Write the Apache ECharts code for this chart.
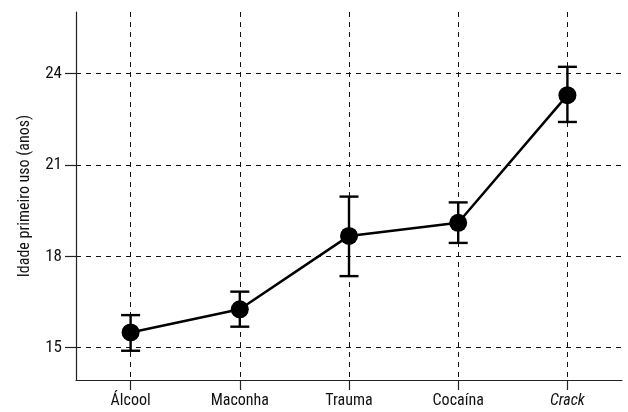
<!DOCTYPE html>
<html>
<head>
<meta charset="utf-8">
<script src="https://cdn.jsdelivr.net/npm/echarts@6/dist/echarts.min.js"></script>
<style>html,body{margin:0;padding:0;background:#fff}#c{width:628px;height:412px}</style>
</head>
<body>
<div id="c"></div>
<script>
const categories = ['Álcool', 'Maconha', 'Trauma', 'Cocaína', 'Crack'];
const means = [15.50, 16.26, 18.67, 19.10, 23.29];
const lower = [14.90, 15.69, 17.35, 18.44, 22.41];
const upper = [16.07, 16.84, 19.96, 19.77, 24.22];
const yTicks = [15, 18, 21, 24];
const xTicks = [0, 1, 2, 3, 4];

const FONT = '"Roboto Condensed", "Liberation Sans", sans-serif';
const chart = echarts.init(document.getElementById('c'), null, {renderer: 'canvas'});

const lineData = means.map((v, i) => [i, v]);
const errData = means.map((v, i) => [i, lower[i], upper[i]]);

chart.setOption({
  animation: false,
  grid: {left: 76, right: 6, top: 12, bottom: 32, containLabel: false},
  xAxis: {
    type: 'value', min: -0.5, max: 4.5,
    axisLine: {show: true, onZero: false, lineStyle: {color: '#222', width: 1.2}},
    axisTick: {show: true, customValues: xTicks, length: 10, lineStyle: {color: '#222', width: 1.2}},
    axisLabel: {
      customValues: xTicks, margin: 13, color: '#111', fontFamily: FONT, fontSize: 16,
      formatter: v => v === 4 ? '{i|' + categories[v] + '}' : categories[v],
      rich: {i: {fontStyle: 'italic', fontFamily: FONT, fontSize: 16, color: '#111'}}
    },
    splitLine: {show: true, lineStyle: {color: '#111', type: [5, 5], width: 1}}
  },
  yAxis: {
    type: 'value', min: 13.94, max: 26.02,
    name: 'Idade primeiro uso (anos)', nameLocation: 'middle', nameGap: 43,
    nameTextStyle: {fontFamily: FONT, fontSize: 16, color: '#111'},
    axisLine: {show: true, onZero: false, lineStyle: {color: '#222', width: 1.2}},
    axisTick: {show: true, customValues: yTicks, length: 11, lineStyle: {color: '#222', width: 1.2}},
    axisLabel: {customValues: yTicks, margin: 14, color: '#111', fontFamily: FONT, fontSize: 17},
    splitLine: {show: true, lineStyle: {color: '#111', type: [5, 5], width: 1}}
  },
  series: [
    {
      type: 'custom',
      data: errData,
      z: 3,
      renderItem: function (params, api) {
        const x = api.value(0);
        const lo = api.coord([x, api.value(1)]);
        const hi = api.coord([x, api.value(2)]);
        const hw = 9.5;
        const st = {stroke: '#000', lineWidth: 2.4, fill: null};
        return {
          type: 'group',
          children: [
            {type: 'line', shape: {x1: lo[0], y1: lo[1], x2: hi[0], y2: hi[1]}, style: st},
            {type: 'line', shape: {x1: lo[0] - hw, y1: lo[1], x2: lo[0] + hw, y2: lo[1]}, style: st},
            {type: 'line', shape: {x1: hi[0] - hw, y1: hi[1], x2: hi[0] + hw, y2: hi[1]}, style: st}
          ]
        };
      }
    },
    {
      type: 'line',
      data: lineData,
      z: 4,
      symbol: 'circle',
      symbolSize: 18,
      itemStyle: {color: '#000'},
      lineStyle: {color: '#000', width: 2.5}
    }
  ]
});
</script>
</body>
</html>
